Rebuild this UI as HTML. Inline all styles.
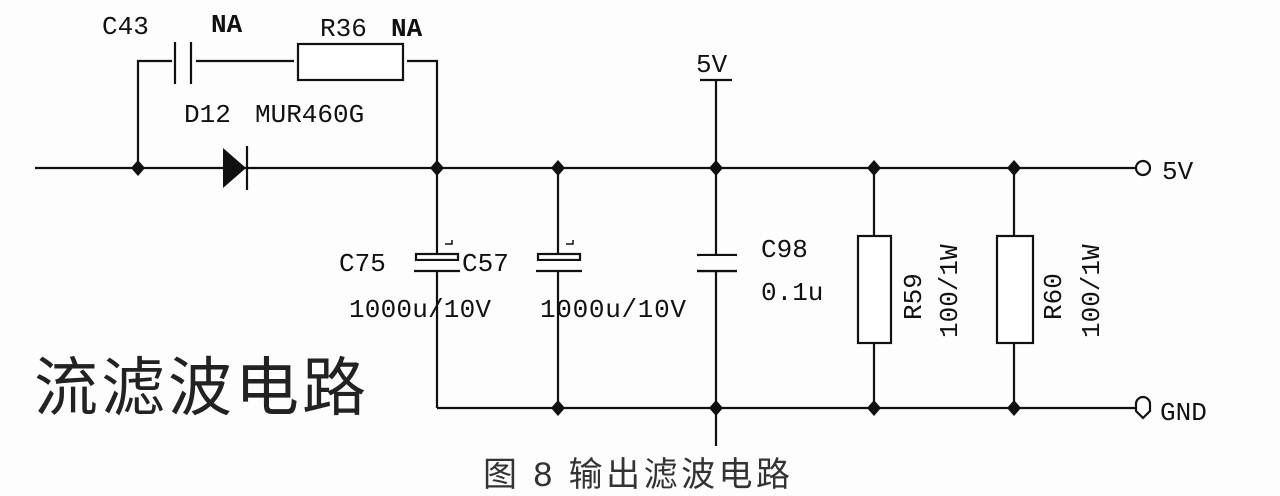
<!DOCTYPE html>
<html><head><meta charset="utf-8"><style>
html,body{margin:0;padding:0;background:#fdfdfd;}
svg{display:block}
.t{font-family:"Liberation Mono","DejaVu Sans Mono",monospace;font-size:26px;fill:#111;}
</style></head><body>
<svg width="1280" height="496" viewBox="0 0 1280 496" xmlns="http://www.w3.org/2000/svg">
<g stroke="#111" stroke-width="2.2" fill="none">
<line x1="35" y1="168" x2="1136" y2="168"/>
<line x1="437" y1="408" x2="1136" y2="408"/>
<circle cx="1143" cy="168" r="7" fill="#fff"/>
<path d="M1136 404 L1136 411 L1143 418 L1150 411 L1150 404 A7 7 0 0 0 1136 404 Z" fill="#fff"/>
<polyline points="138,168 138,61 172,61"/>
<line x1="175" y1="42" x2="175" y2="84"/>
<line x1="191" y1="42" x2="191" y2="84"/>
<line x1="196" y1="61" x2="294" y2="61"/>
<rect x="298" y="44" width="105" height="36" fill="#fff"/>
<polyline points="407,61 437,61 437,408"/>
<line x1="247" y1="146" x2="247" y2="190"/>
<line x1="716" y1="80" x2="716" y2="255"/>
<line x1="700" y1="80" x2="732" y2="80"/>
<line x1="558" y1="168" x2="558" y2="408"/>
<line x1="716" y1="271" x2="716" y2="446"/>
<line x1="697" y1="255" x2="737" y2="255"/>
<line x1="697" y1="271" x2="737" y2="271"/>
<line x1="874" y1="168" x2="874" y2="408"/>
<line x1="1014" y1="168" x2="1014" y2="408"/>
<rect x="858" y="236" width="33" height="107" fill="#fff"/>
<rect x="997" y="236" width="36" height="107" fill="#fff"/>
<rect x="416" y="254" width="42" height="6" fill="#fff"/>
<rect x="538" y="254" width="42" height="6" fill="#fff"/>
<polyline points="445,244 452,244 452,240" stroke-width="1.5"/>
<polyline points="566,244 573,244 573,240" stroke-width="1.5"/>
</g>
<rect x="416" y="261" width="43" height="9" fill="#fdfdfd"/>
<rect x="537" y="261" width="44" height="9" fill="#fdfdfd"/>
<rect x="700" y="256" width="36" height="14" fill="#fdfdfd"/>
<g stroke="#111" stroke-width="2.2">
<line x1="414" y1="271" x2="460" y2="271"/>
<line x1="536" y1="271" x2="582" y2="271"/>
<line x1="697" y1="271" x2="737" y2="271"/>
</g>
<polygon points="223,148 246,168 223,188" fill="#111"/>
<g fill="#111">
<polygon points="138,160 145,168 138,176 131,168"/>
<polygon points="437,160 444,168 437,176 430,168"/>
<polygon points="558,160 565,168 558,176 551,168"/>
<polygon points="716,160 723,168 716,176 709,168"/>
<polygon points="874,160 881,168 874,176 867,168"/>
<polygon points="1014,160 1021,168 1014,176 1007,168"/>
<polygon points="558,400 565,408 558,416 551,408"/>
<polygon points="716,400 723,408 716,416 709,408"/>
<polygon points="874,400 881,408 874,416 867,408"/>
<polygon points="1014,400 1021,408 1014,416 1007,408"/>
</g>
<text class="t" x="102" y="34">C43</text>
<text class="t" x="211" y="32" font-weight="bold">NA</text>
<text class="t" x="320" y="36">R36</text>
<text class="t" x="391" y="36" font-weight="bold">NA</text>
<text class="t" x="184" y="122">D12</text>
<text class="t" x="255" y="122">MUR460G</text>
<text class="t" x="696" y="72">5V</text>
<text class="t" x="1162" y="179">5V</text>
<text class="t" x="1160" y="420">GND</text>
<text class="t" x="339" y="271">C75</text>
<text class="t" x="462" y="271">C57</text>
<text class="t" x="349" y="317" textLength="142">1000u/10V</text>
<text class="t" x="540" y="317" textLength="146">1000u/10V</text>
<text class="t" x="761" y="257">C98</text>
<text class="t" x="761" y="300">0.1u</text>
<text class="t" transform="translate(921,320) rotate(-90)">R59</text>
<text class="t" transform="translate(957,338) rotate(-90)">100/1W</text>
<text class="t" transform="translate(1061,320) rotate(-90)">R60</text>
<text class="t" transform="translate(1099,338) rotate(-90)">100/1W</text>
<text x="34" y="410" font-family="'Noto Sans CJK SC',sans-serif" font-size="64" fill="#222" letter-spacing="3">流滤波电路</text>
<text x="483" y="486" font-family="'Liberation Sans','Noto Sans CJK SC',sans-serif" font-size="34" fill="#333" textLength="307">图 8 输出滤波电路</text>
</svg>
</body></html>
